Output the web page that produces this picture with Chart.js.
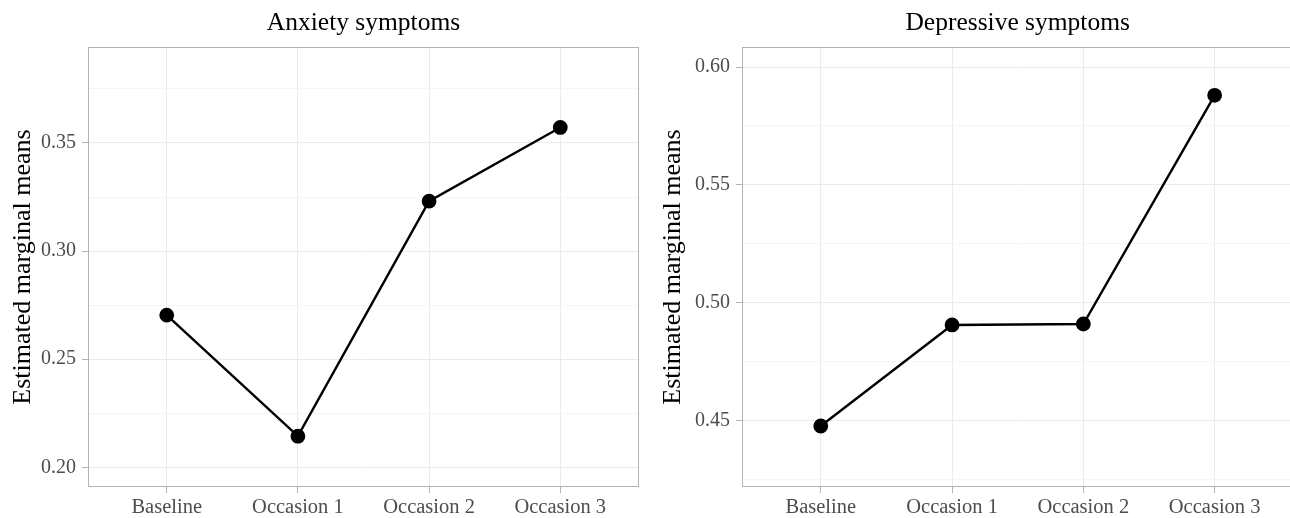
<!DOCTYPE html>
<html>
<head>
<meta charset="utf-8">
<script src="https://cdn.jsdelivr.net/npm/chart.js@4.4.1/dist/chart.umd.min.js"></script>
<style>
  html, body { margin: 0; padding: 0; background: #fff; overflow: hidden; }
  canvas { position: absolute; top: 0; }
  #anxChart { left: 0; }
  #depChart { left: 650px; }
</style>
</head>
<body>
<canvas id="anxChart" width="650" height="518"></canvas>
<canvas id="depChart" width="652" height="518"></canvas>
<script>
// ----- DATA -----
const occasions = ['Baseline', 'Occasion 1', 'Occasion 2', 'Occasion 3'];
const anxietyMeans = [0.2704, 0.2144, 0.3231, 0.3572];
const depressiveMeans = [0.4476, 0.4905, 0.4909, 0.5880];
const anxietyTicks = [0.20, 0.25, 0.30, 0.35];
const depressiveTicks = [0.45, 0.50, 0.55, 0.60];

const SERIF = '"Liberation Serif", "Times New Roman", serif';

// panel border + title centred over the plot area (ggplot style)
const panelDecor = {
  id: 'panelDecor',
  afterDraw(chart, args, opts) {
    const { ctx, chartArea: a } = chart;
    ctx.save();
    ctx.strokeStyle = '#b3b3b3';
    ctx.lineWidth = 1;
    ctx.strokeRect(Math.round(a.left) + 0.5, Math.round(a.top) + 0.5,
      Math.round(a.right - a.left) - 1, Math.round(a.bottom - a.top) - 1);
    ctx.fillStyle = '#000';
    ctx.font = '25.5px ' + SERIF;
    ctx.textAlign = 'center';
    ctx.textBaseline = 'alphabetic';
    ctx.fillText(opts.text, (a.left + a.right) / 2, 29.5);
    ctx.restore();
  }
};

function makeChart(id, title, values, yTicks, yMin, yMax, axisWidth, padRight) {
  const isMajor = v => yTicks.some(t => Math.abs(t - v) < 1e-6);
  new Chart(document.getElementById(id), {
    type: 'line',
    data: {
      datasets: [{
        data: values.map((v, i) => ({ x: i, y: v })),
        borderColor: '#000',
        backgroundColor: '#000',
        borderWidth: 2.4,
        pointRadius: 6.2,
        pointHoverRadius: 6.2,
        tension: 0,
        clip: false
      }]
    },
    options: {
      responsive: false,
      animation: false,
      devicePixelRatio: 1,
      layout: { padding: { top: 47, right: padRight, left: 0, bottom: 0 } },
      plugins: {
        legend: { display: false },
        tooltip: { enabled: false },
        panelDecor: { text: title }
      },
      scales: {
        x: {
          type: 'linear',
          min: -0.6,
          max: 3.6,
          afterFit: s => { s.height = 31; s.paddingLeft = 0; s.paddingRight = 0; },
          border: { display: false },
          grid: { color: '#ebebeb', tickColor: '#b3b3b3', tickLength: 6 },
          ticks: {
            stepSize: 1,
            includeBounds: false,
            padding: 2.5,
            color: '#4d4d4d',
            font: { family: SERIF, size: 20.5 },
            callback: v => occasions[v] ?? ''
          }
        },
        y: {
          min: yMin,
          max: yMax,
          afterFit: s => { s.width = axisWidth; s.paddingTop = 0; s.paddingBottom = 0; },
          border: { display: false },
          grid: {
            color: c => (c.tick && isMajor(c.tick.value)) ? '#ebebeb' : '#f5f5f5',
            tickColor: c => (c.tick && isMajor(c.tick.value)) ? '#b3b3b3' : 'rgba(0,0,0,0)',
            tickLength: 6
          },
          ticks: {
            stepSize: 0.025,
            includeBounds: false,
            padding: 6,
            color: '#4d4d4d',
            font: { family: SERIF, size: 20 },
            callback: v => isMajor(v) ? v.toFixed(2) : ''
          },
          title: {
            display: true,
            text: 'Estimated marginal means',
            color: '#000',
            font: { family: SERIF, size: 26 },
            padding: { top: 8, bottom: 0 }
          }
        }
      }
    },
    plugins: [panelDecor]
  });
}

makeChart('anxChart', 'Anxiety symptoms', anxietyMeans, anxietyTicks, 0.1909, 0.3944, 88, 11);
makeChart('depChart', 'Depressive symptoms', depressiveMeans, depressiveTicks, 0.4217, 0.6085, 92, 1);
</script>
</body>
</html>
